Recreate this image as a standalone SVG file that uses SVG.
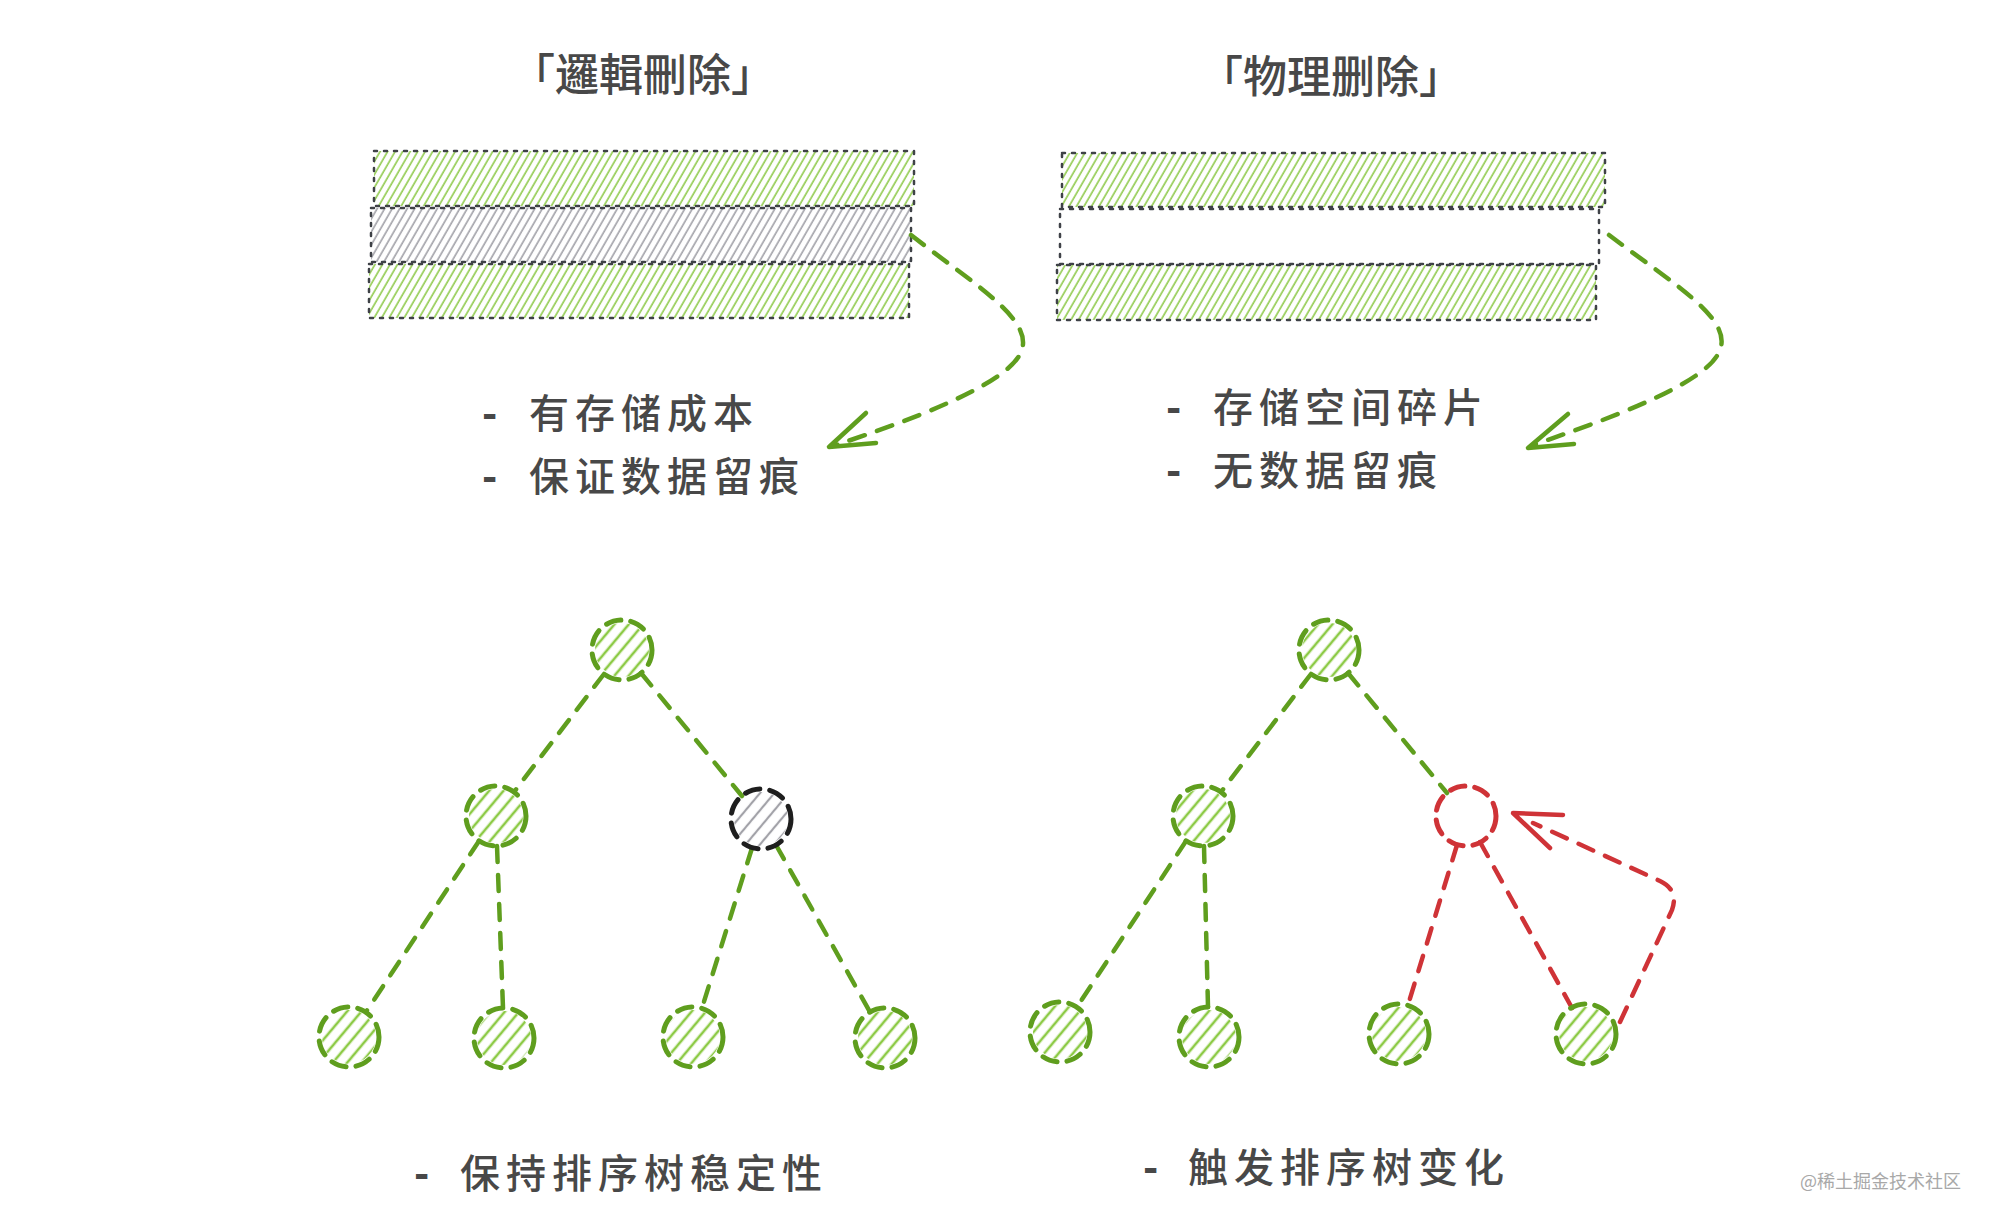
<svg xmlns="http://www.w3.org/2000/svg" width="1990" height="1224" viewBox="0 0 1990 1224">
<defs>
  <pattern id="hatchG" width="6.5" height="6.5" patternUnits="userSpaceOnUse" patternTransform="rotate(30)">
    <line x1="2" y1="0" x2="2" y2="6.5" stroke="#96cd57" stroke-width="1.7"/>
  </pattern>
  <pattern id="hatchGray" width="6.5" height="6.5" patternUnits="userSpaceOnUse" patternTransform="rotate(30)">
    <line x1="2" y1="0" x2="2" y2="6.5" stroke="#a6a6ac" stroke-width="1.7"/>
  </pattern>
  <pattern id="hatchCG" width="11" height="11" patternUnits="userSpaceOnUse" patternTransform="rotate(40)">
    <line x1="3" y1="0" x2="3" y2="11" stroke="#8cca45" stroke-width="2.6"/>
  </pattern>
  <pattern id="hatchCGray" width="11" height="11" patternUnits="userSpaceOnUse" patternTransform="rotate(40)">
    <line x1="3" y1="0" x2="3" y2="11" stroke="#a2a2a8" stroke-width="2.2"/>
  </pattern>
  <style>
    .title { font-family: "Noto Sans CJK SC", "Noto Sans CJK TC", sans-serif; font-size: 44px; font-weight: 500; fill: #484848; text-anchor: middle; }
    .note { font-family: "Noto Sans CJK SC", sans-serif; font-size: 40px; font-weight: 500; fill: #484848; letter-spacing: 6px; }
    .dash { font-weight: 900; }
    .box { stroke: #3f4247; stroke-width: 2.5; stroke-dasharray: 3 7; stroke-linecap: round; }
    .ring { fill: none; stroke-width: 5; stroke-dasharray: 15 10; stroke-linecap: round; }
    .g { stroke: #5f9e1e; }
    .k { stroke: #1e1e1e; }
    .r { stroke: #cf3337; }
    .edge { fill: none; stroke-width: 4.5; stroke-dasharray: 16 13; stroke-linecap: round; }
    .head { fill: none; stroke-width: 4.5; stroke-linecap: round; stroke-linejoin: round; }
    .wm { font-family: "Noto Sans CJK SC", sans-serif; font-size: 18px; fill: #a8a8a8; }
  </style>
</defs>
<rect width="1990" height="1224" fill="#ffffff"/>

<g id="title-logical"><text class="title" x="643" y="91">「邏輯刪除」</text></g>
<g id="title-physical"><text class="title" x="1331" y="93">「物理删除」</text></g>

<g id="logical-blocks">
  <rect class="box" x="374" y="151" width="540" height="55" fill="url(#hatchG)"/>
  <rect class="box" x="371" y="208" width="540" height="54" fill="url(#hatchGray)"/>
  <rect class="box" x="369" y="264" width="540" height="54" fill="url(#hatchG)"/>
</g>
<g id="physical-blocks">
  <rect class="box" x="1062" y="153" width="543" height="54" fill="url(#hatchG)"/>
  <rect class="box" x="1060" y="209" width="539" height="55" fill="none"/>
  <rect class="box" x="1057" y="265" width="539" height="55" fill="url(#hatchG)"/>
</g>

<g id="logical-notes">
  <text class="note" y="428"><tspan class="dash" x="482">- </tspan><tspan x="529">有存储成本</tspan></text>
  <text class="note" y="491"><tspan class="dash" x="482">- </tspan><tspan x="529">保证数据留痕</tspan></text>
</g>
<g id="physical-notes">
  <text class="note" y="422"><tspan class="dash" x="1166">- </tspan><tspan x="1213">存储空间碎片</tspan></text>
  <text class="note" y="485"><tspan class="dash" x="1166">- </tspan><tspan x="1213">无数据留痕</tspan></text>
</g>

<g id="connectors">
  <path class="edge g" d="M911,235 C975,285 1035,320 1021,352 C1008,385 905,422 836,445"/>
  <path class="head g" d="M866,413 L829,447 L876,443"/>
  <path class="edge g" d="M1609,235 C1675,285 1735,320 1719,352 C1705,385 1600,422 1533,445"/>
  <path class="head g" d="M1568,414 L1528,448 L1574,444"/>

  <line class="edge g" x1="604" y1="674" x2="514" y2="792"/>
  <line class="edge g" x1="641" y1="673" x2="742" y2="796"/>
  <line class="edge g" x1="479" y1="841" x2="366" y2="1012"/>
  <line class="edge g" x1="497" y1="846" x2="503" y2="1008"/>
  <line class="edge g" x1="752" y1="848" x2="702" y2="1008"/>
  <line class="edge g" x1="776" y1="845" x2="870" y2="1012"/>

  <line class="edge g" x1="1311" y1="674" x2="1221" y2="792"/>
  <line class="edge g" x1="1348" y1="673" x2="1447" y2="793"/>
  <line class="edge g" x1="1186" y1="841" x2="1077" y2="1007"/>
  <line class="edge g" x1="1204" y1="846" x2="1208" y2="1007"/>
  <line class="edge r" x1="1457" y1="845" x2="1408" y2="1005"/>
  <line class="edge r" x1="1480" y1="842" x2="1572" y2="1008"/>
  <path class="edge r" d="M1620,1022 L1672,910 Q1679,890 1660,881 L1533,823"/>
  <path class="head r" d="M1563,815 L1513,813 L1550,848"/>
</g>

<g id="node-l-root"><circle cx="622" cy="650" r="27" fill="url(#hatchCG)"/><circle class="ring g" cx="622" cy="650" r="30"/></g>
<g id="node-l-left"><circle cx="496" cy="816" r="27" fill="url(#hatchCG)"/><circle class="ring g" cx="496" cy="816" r="30"/></g>
<g id="node-l-right"><circle cx="761" cy="819" r="27" fill="url(#hatchCGray)"/><circle class="ring k" cx="761" cy="819" r="30"/></g>
<g id="node-l-leaf1"><circle cx="349" cy="1037" r="27" fill="url(#hatchCG)"/><circle class="ring g" cx="349" cy="1037" r="30"/></g>
<g id="node-l-leaf2"><circle cx="504" cy="1038" r="27" fill="url(#hatchCG)"/><circle class="ring g" cx="504" cy="1038" r="30"/></g>
<g id="node-l-leaf3"><circle cx="693" cy="1037" r="27" fill="url(#hatchCG)"/><circle class="ring g" cx="693" cy="1037" r="30"/></g>
<g id="node-l-leaf4"><circle cx="885" cy="1038" r="27" fill="url(#hatchCG)"/><circle class="ring g" cx="885" cy="1038" r="30"/></g>

<g id="node-r-root"><circle cx="1329" cy="650" r="27" fill="url(#hatchCG)"/><circle class="ring g" cx="1329" cy="650" r="30"/></g>
<g id="node-r-left"><circle cx="1203" cy="816" r="27" fill="url(#hatchCG)"/><circle class="ring g" cx="1203" cy="816" r="30"/></g>
<g id="node-r-right"><circle class="ring r" cx="1466" cy="816" r="30"/></g>
<g id="node-r-leaf1"><circle cx="1060" cy="1032" r="27" fill="url(#hatchCG)"/><circle class="ring g" cx="1060" cy="1032" r="30"/></g>
<g id="node-r-leaf2"><circle cx="1209" cy="1037" r="27" fill="url(#hatchCG)"/><circle class="ring g" cx="1209" cy="1037" r="30"/></g>
<g id="node-r-leaf3"><circle cx="1399" cy="1034" r="27" fill="url(#hatchCG)"/><circle class="ring g" cx="1399" cy="1034" r="30"/></g>
<g id="node-r-leaf4"><circle cx="1586" cy="1034" r="27" fill="url(#hatchCG)"/><circle class="ring g" cx="1586" cy="1034" r="30"/></g>

<g id="bottom-notes">
  <text class="note" y="1188"><tspan class="dash" x="414">- </tspan><tspan x="460">保持排序树稳定性</tspan></text>
  <text class="note" y="1182"><tspan class="dash" x="1143">- </tspan><tspan x="1188">触发排序树变化</tspan></text>
</g>

<g id="watermark"><text class="wm" x="1800" y="1188">@稀土掘金技术社区</text></g>
</svg>
